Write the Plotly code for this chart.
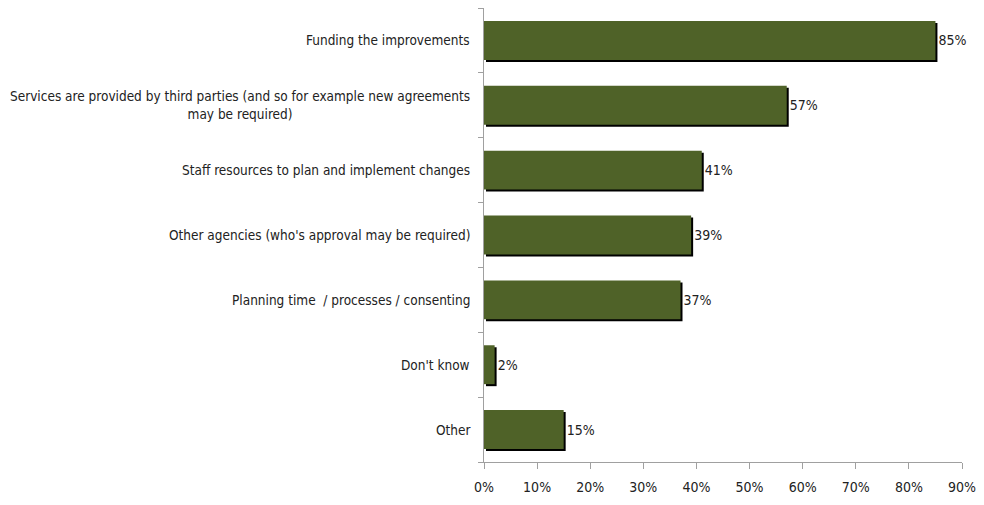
import plotly.graph_objects as go

categories = [
    "Funding the improvements",
    "Services are provided by third parties (and so for example new agreements<br>may be required)",
    "Staff resources to plan and implement changes",
    "Other agencies (who's approval may be required)",
    "Planning time  / processes / consenting",
    "Don't know",
    "Other",
]
values = [85, 57, 41, 39, 37, 2, 15]
x_ticks = [0, 10, 20, 30, 40, 50, 60, 70, 80, 90]

FONT = "DejaVu Sans Condensed, Liberation Sans Narrow, sans-serif"
GREEN = "#4F6228"
TEXT = "#222222"
AXIS = "#A0A0A0"

L, R, T, B = 484, 20, 8, 43
W, H = 984, 505
plot_w = W - L - R
plot_h = H - T - B
x_max = 90
px_per_x = plot_w / x_max
n = len(categories)
px_per_cat = plot_h / n
shift = 2  # shadow offset in pixels

fig = go.Figure()

# shadow bars on hidden base axes, nudged right and down
fig.add_trace(go.Bar(
    x=values, y=list(range(n)), orientation="h",
    marker=dict(color="#000000", line=dict(width=0)),
    width=0.6, hoverinfo="skip", showlegend=False,
))

# main bars on the visible overlaid axes
fig.add_trace(go.Bar(
    x=values, y=list(range(n)), orientation="h",
    marker=dict(color=GREEN, line=dict(width=0)),
    width=0.6,
    xaxis="x2", yaxis="y2",
    text=[f"{v}%" for v in values],
    textposition="outside",
    textfont=dict(family=FONT, size=14, color=TEXT),
    cliponaxis=False,
    showlegend=False,
))

# category labels
for i, c in enumerate(categories):
    fig.add_annotation(
        x=0, y=i, xref="paper", yref="y2", text=c,
        xanchor="right", yanchor="middle", align="center",
        xshift=-12, showarrow=False,
        font=dict(family=FONT, size=13.5, color=TEXT),
    )

dx = shift / px_per_x
dy = shift / px_per_cat

fig.update_layout(
    width=W, height=H,
    margin=dict(l=L, r=R, t=T, b=B),
    paper_bgcolor="white", plot_bgcolor="white",
    xaxis=dict(range=[-dx, x_max - dx], visible=False),
    yaxis=dict(range=[n - 0.5 - dy, -0.5 - dy], visible=False),
    xaxis2=dict(
        overlaying="x", side="bottom",
        range=[0, x_max], tickvals=x_ticks,
        ticktext=[f"{t}%" for t in x_ticks],
        showgrid=False, zeroline=False,
        showline=True, linecolor=AXIS, linewidth=1,
        ticks="outside", ticklen=6, tickcolor=AXIS,
        ticklabelstandoff=6,
        tickfont=dict(family=FONT, size=14, color=TEXT),
    ),
    yaxis2=dict(
        overlaying="y", side="left",
        range=[n - 0.5, -0.5], tickmode="array",
        tickvals=[i - 0.5 for i in range(n + 1)], ticktext=[""] * (n + 1),
        showgrid=False, zeroline=False,
        showline=True, linecolor=AXIS, linewidth=1,
        ticks="outside", ticklen=5, tickcolor=AXIS,
    ),
)

fig.write_html("out.html")
